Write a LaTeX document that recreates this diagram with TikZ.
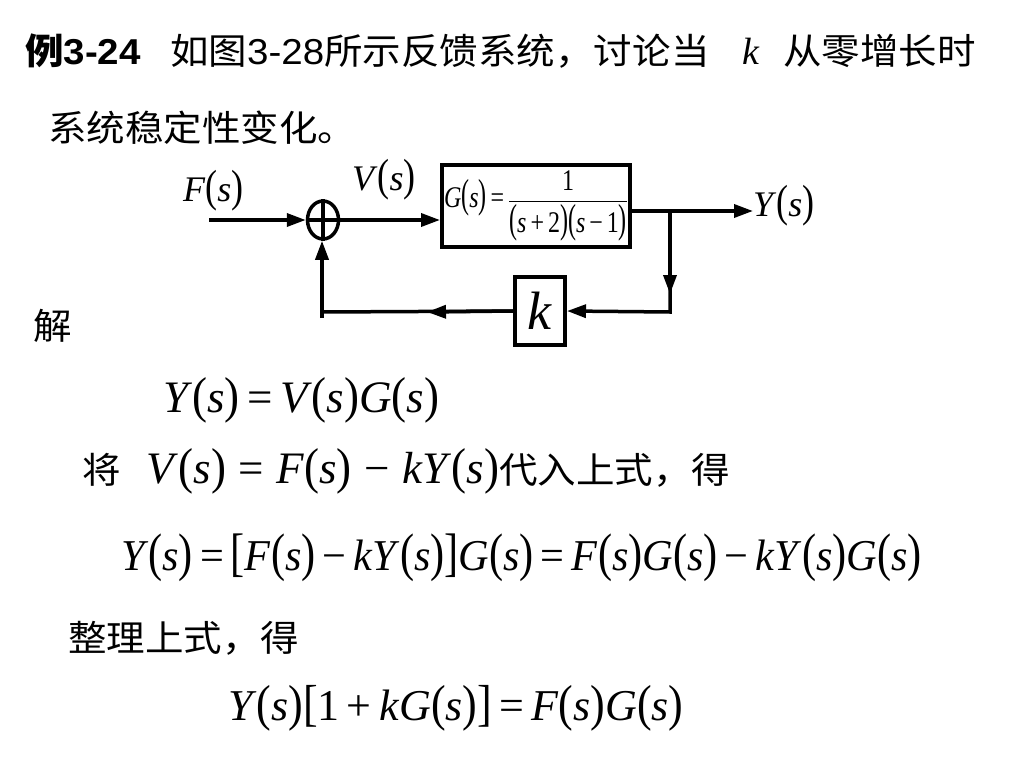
\documentclass[tikz,border=0pt]{standalone}
\usepackage{fontspec}
\usepackage{amsmath}
\usepackage{graphicx}
\setmainfont{Liberation Serif}
\newfontfamily\cjk{Noto Sans CJK SC}
\newfontfamily\arial{Liberation Sans}
\usetikzlibrary{arrows.meta,shapes.geometric}
\newcommand\pscale{1}
\newcommand\lp{\scalebox{1}[\pscale]{(}}
\newcommand\rp{\scalebox{1}[\pscale]{)}}
\newcommand\lb{\scalebox{1}[\pscale]{[}}
\newcommand\rb{\scalebox{1}[\pscale]{]}}
\newcommand\vv[1]{\textit{#1}}
\newcommand\fs[1]{\vv{#1}\lp\vv{s}\rp}
\newcommand\eqs{\,=\,}
\newcommand\mns{\,−\,}
\newcommand\zh[1]{\scalebox{1.07}[1]{\cjk\fontsize{36}{40}\selectfont #1}}
\tikzset{
  txt/.style = {anchor=base west, inner sep=0pt},% text line
  eqn/.style = {txt, font=\fontsize{#1}{#1}\selectfont},% formula line
  ps/.code = {\def\pscale{#1}},% paren height
  lbl/.style = {txt, font=\fontsize{36}{40}\selectfont, ps=1.25},% signal
  blk/.style = {draw, line width=4pt, inner sep=0pt},% block
  sumnode/.style = {ellipse, draw, line width=3.5pt, minimum width=31pt, minimum height=38pt, inner sep=0pt},% summer
  wire/.style = {line width=3.5pt},
  flow/.style = {wire, ->}
}
\begin{document}
\begin{tikzpicture}[x=1pt,y=-1pt,>={Triangle[length=19pt,width=13pt]}]
\path[use as bounding box, fill=white] (0,0) rectangle (1024,768);
% problem
\node[txt] (ex) at (25,64) {\zh{\bfseries 例{\arial\bfseries 3-24}}};
\node[txt] (q1) at (170,64) {\zh{如图{\arial 3-28}所示反馈系统，讨论当}};
\node[eqn=38] (qk) at (742,64) {\vv{k}};
\node[txt] (q2) at (783,64) {\zh{从零增长时}};
\node[txt] (q3) at (48,141) {\zh{系统稳定性变化。}};
% block diagram
\node[sumnode] (sum) at (323,220) {};
\draw[wire] (sum.north) -- (sum.south) (sum.west) -- (sum.east);
\coordinate (in) at (209,220);
\node[lbl] (F) at (183,201) {\fs{F}};
\draw[flow] (in) -- (sum.west);
\node[blk, minimum width=188pt, minimum height=82pt] (G) at (536,206)
  {\scalebox{0.8}[1]{\fontsize{30}{32}\selectfont\def\pscale{1.35}\fs{G}\eqs
   $\dfrac{\text{1}}{\text{\lp\vv{s}\,+\,2\rp\lp\vv{s}\mns 1\rp}}$}};
\node[lbl] (V) at (352,190) {\fs{V}};
\draw[flow] (sum.east) -- (sum.east -| G.west);
\coordinate (br) at (670,211);
\node[lbl] (Y) at (753,216) {\fs{Y}};
\draw[flow] (G.east |- br) -- (br -| Y.west);
\node[blk, minimum width=50pt, minimum height=68pt, font=\fontsize{54}{54}\selectfont] (k) at (540,311) {\vv{k}};
\coordinate (dn) at (670,312);
\coordinate (m1) at (670,294);
\draw[flow] (br) -- (dn) -- (k.east);
\draw[flow] (br) -- (m1);
\coordinate (fb) at (322,312);
\coordinate (m2) at (427,312);
\coordinate (fbt) at (322,318);
\draw[wire] (k.west) -- (fb);
\draw[flow] (k.west) -- (m2);
\draw[flow] (fbt) -- (fbt |- sum.south);
% solution
\node[txt] (sol) at (33,339) {\zh{解}};
\node[eqn=45, ps=1.12] (e1) at (163,412) {\fs{Y}\eqs\fs{V}\fs{G}};
\node[eqn=45, ps=1.12] (e2) at (82,483) {\zh{将}\hspace{26pt}\fs{V}\;=\;\fs{F}\;−\;\vv{k}\fs{Y}\zh{代入上式，得}};
\node[eqn=44, ps=1.2] (e3) at (121,570) {\scalebox{0.96}[1]{\fs{Y}\eqs\lb\fs{F}\mns\vv{k}\fs{Y}\rb\fs{G}\eqs\fs{F}\fs{G}\mns\vv{k}\fs{Y}\fs{G}}};
\node[txt] (e4) at (68,651) {\zh{整理上式，得}};
\node[eqn=44, ps=1.15] (e5) at (228,720) {\fs{Y}\lb 1\,+\,\vv{k}\fs{G}\rb\eqs\fs{F}\fs{G}};
\end{tikzpicture}
\end{document}
